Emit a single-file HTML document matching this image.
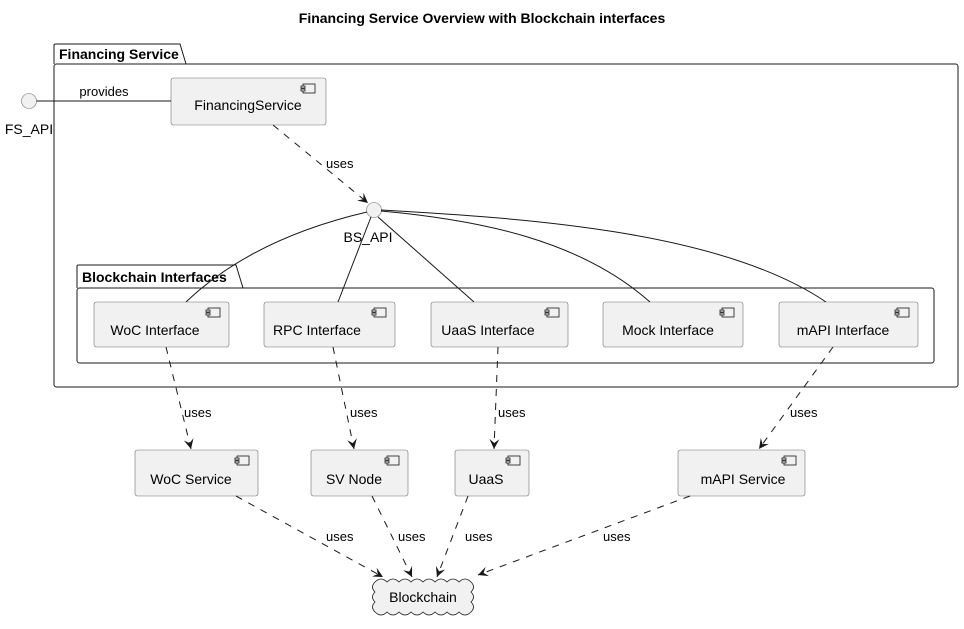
<!DOCTYPE html>
<html><head><meta charset="utf-8">
<style>
html,body{margin:0;padding:0;background:#fff;}
svg{display:block;font-family:"Liberation Sans","DejaVu Sans",sans-serif;}
.box{fill:#f1f1f1;stroke:#181818;stroke-width:0.6;stroke-opacity:0.6;}
.t{font-size:14px;fill:#000;}
.l{font-size:13px;fill:#000;}
.ln{stroke:#181818;stroke-width:1;fill:none;}
.d{stroke:#181818;stroke-width:1;fill:none;stroke-dasharray:7,7;}
.ah{fill:#181818;}
</style></head><body>
<svg width="964" height="629" viewBox="0 0 964 629" xmlns="http://www.w3.org/2000/svg">
<defs>
<g id="ic"><rect x="0" y="0" width="12" height="9" fill="#f1f1f1" stroke="#181818" stroke-width="0.8"/><rect x="-2" y="2" width="4" height="2" fill="#f1f1f1" stroke="#181818" stroke-width="0.8"/><rect x="-2" y="5" width="4" height="2" fill="#f1f1f1" stroke="#181818" stroke-width="0.8"/></g>
<marker id="ar" markerWidth="12" markerHeight="10" refX="10" refY="5" orient="auto" markerUnits="userSpaceOnUse"><path d="M0,0 L10,5 L0,10 L4,5 Z" fill="#181818"/></marker>
</defs>
<text x="482" y="23" text-anchor="middle" font-size="14" font-weight="bold">Financing Service Overview with Blockchain interfaces</text>

<!-- outer package -->
<path d="M54,64 L54,45 Q54,44 56,44 L180,44 L186,64" class="ln" stroke-width="1.5"/>
<rect x="54" y="64" width="904" height="323" rx="2.5" class="ln" stroke-width="1.5"/>
<text x="59" y="59" font-size="14" font-weight="bold">Financing Service</text>

<!-- inner package -->
<path d="M77,288 L77,266 Q77,265 79,265 L236,265 L243,288" class="ln" stroke-width="1.5"/>
<rect x="77" y="288" width="857" height="75" rx="2.5" class="ln" stroke-width="1.5"/>
<text x="82" y="282" font-size="14" font-weight="bold">Blockchain Interfaces</text>

<!-- FS_API -->
<circle cx="29" cy="101" r="7.5" class="box" stroke-opacity="1" stroke-width="0.8"/>
<text x="29" y="134" class="t" text-anchor="middle">FS_API</text>
<line x1="36.5" y1="101" x2="171" y2="101" class="ln"/>
<text x="104" y="96" class="l" text-anchor="middle">provides</text>

<rect x="171" y="78" width="155" height="47" rx="2.5" class="box"/>
<use href="#ic" x="303" y="84"/>
<text x="248" y="110" class="t" text-anchor="middle">FinancingService</text>

<line x1="273" y1="125" x2="368" y2="203" class="d" marker-end="url(#ar)"/>
<text x="326" y="168" class="l">uses</text>

<!-- BS_API -->
<circle cx="374" cy="210" r="7.5" class="box" stroke-opacity="1" stroke-width="0.8"/>
<text x="368" y="242" class="t" text-anchor="middle">BS_API</text>

<path d="M367,212 C290,230 230,260 186,302" class="ln"/>
<path d="M371,217 L338,302" class="ln"/>
<path d="M378,217 L474,302" class="ln"/>
<path d="M381,211 C480,220 580,240 650,302" class="ln"/>
<path d="M381,210 C520,218 720,230 826,302" class="ln"/>

<!-- interfaces -->
<rect x="94" y="302" width="135" height="45" rx="2.5" class="box"/><use href="#ic" x="208" y="308"/>
<text x="155" y="335" class="t" text-anchor="middle">WoC Interface</text>
<rect x="264" y="302" width="131" height="45" rx="2.5" class="box"/><use href="#ic" x="374" y="308"/>
<text x="317" y="335" class="t" text-anchor="middle">RPC Interface</text>
<rect x="431" y="302" width="137" height="45" rx="2.5" class="box"/><use href="#ic" x="547" y="308"/>
<text x="488" y="335" class="t" text-anchor="middle">UaaS Interface</text>
<rect x="603" y="302" width="140" height="45" rx="2.5" class="box"/><use href="#ic" x="722" y="308"/>
<text x="668" y="335" class="t" text-anchor="middle">Mock Interface</text>
<rect x="779" y="302" width="139" height="45" rx="2.5" class="box"/><use href="#ic" x="897" y="308"/>
<text x="843" y="335" class="t" text-anchor="middle">mAPI Interface</text>

<!-- uses down -->
<line x1="166" y1="347" x2="191" y2="449" class="d" marker-end="url(#ar)"/>
<text x="184" y="417" class="l">uses</text>
<line x1="333" y1="347" x2="354" y2="449" class="d" marker-end="url(#ar)"/>
<text x="350" y="417" class="l">uses</text>
<line x1="498" y1="347" x2="494" y2="449" class="d" marker-end="url(#ar)"/>
<text x="498" y="417" class="l">uses</text>
<line x1="833" y1="347" x2="759" y2="449" class="d" marker-end="url(#ar)"/>
<text x="790" y="417" class="l">uses</text>

<!-- services -->
<rect x="135" y="450" width="123" height="46" rx="2.5" class="box"/><use href="#ic" x="237" y="456"/>
<text x="191" y="484" class="t" text-anchor="middle">WoC Service</text>
<rect x="311" y="450" width="97" height="46" rx="2.5" class="box"/><use href="#ic" x="387" y="456"/>
<text x="354" y="484" class="t" text-anchor="middle">SV Node</text>
<rect x="455" y="450" width="74" height="46" rx="2.5" class="box"/><use href="#ic" x="508" y="456"/>
<text x="486" y="484" class="t" text-anchor="middle">UaaS</text>
<rect x="678" y="450" width="127" height="46" rx="2.5" class="box"/><use href="#ic" x="784" y="456"/>
<text x="743" y="484" class="t" text-anchor="middle">mAPI Service</text>

<!-- to blockchain -->
<line x1="236" y1="496" x2="383" y2="577" class="d" marker-end="url(#ar)"/>
<text x="326" y="541" class="l">uses</text>
<line x1="372" y1="496" x2="412" y2="577" class="d" marker-end="url(#ar)"/>
<text x="398" y="541" class="l">uses</text>
<line x1="468" y1="496" x2="437" y2="577" class="d" marker-end="url(#ar)"/>
<text x="465" y="541" class="l">uses</text>
<line x1="690" y1="496" x2="478" y2="575" class="d" marker-end="url(#ar)"/>
<text x="603" y="541" class="l">uses</text>

<!-- cloud -->
<path d="M375,582 q6,-6 12,0 q6,-6 12,0 q6,-6 12,0 q6,-6 12,0 q6,-6 12,0 q6,-6 12,0 q6,-6 12,0 q6,-6 12,0
 q5,5 0,10 q5,5 0,10 q5,5 0,10
 q-6,6 -12,0 q-6,6 -12,0 q-6,6 -12,0 q-6,6 -12,0 q-6,6 -12,0 q-6,6 -12,0 q-6,6 -12,0 q-6,6 -12,0
 q-5,-5 0,-10 q-5,-5 0,-10 q-5,-5 0,-10 Z" fill="#f1f1f1" stroke="#181818" stroke-width="0.8"/>
<text x="423" y="602" class="t" text-anchor="middle">Blockchain</text>
</svg>
</body></html>
